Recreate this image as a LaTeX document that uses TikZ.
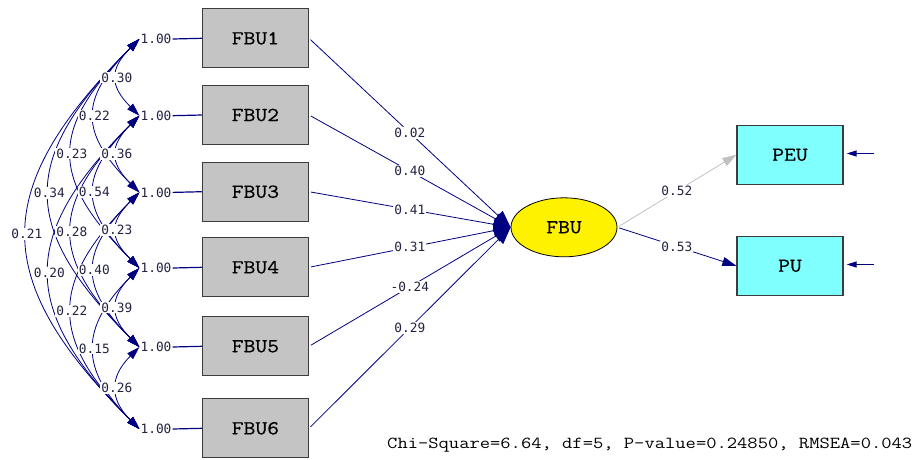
\documentclass[tikz,border=0pt]{standalone}
\usepackage{fontspec}
\newfontfamily\boxfont[FakeStretch=1.16,FakeBold=0.6]{Latin Modern Mono}
\newfontfamily\chifont[FakeStretch=1.19]{Latin Modern Mono}
\newfontfamily\numfont{DejaVu Sans Mono}
\usetikzlibrary{arrows.meta,calc,shapes.geometric}
\definecolor{navyc}{RGB}{0,0,128}
\definecolor{boxgray}{RGB}{196,196,196}
\definecolor{boxcyan}{RGB}{128,255,255}
\definecolor{labc}{RGB}{35,35,65}
\definecolor{lgray}{RGB}{192,192,192}
\definecolor{edgec}{RGB}{60,60,60}
\tikzset{
  obsbox/.style={draw=edgec, line width=1.3pt, minimum width=106pt, minimum height=59pt, inner sep=0pt, font=\boxfont\fontsize{19.8}{20}\selectfont},
  fbubox/.style={obsbox, fill=boxgray},
  endobox/.style={obsbox, fill=boxcyan},
  latent/.style={ellipse, draw=black, line width=0.8pt, fill=yellow, minimum width=106pt, minimum height=59pt, inner sep=0pt, font=\boxfont\fontsize{19.8}{20}\selectfont},
  errlab/.style={font=\numfont\fontsize{12.8}{13}\selectfont, text=labc, inner sep=1pt},
  lab/.style={font=\numfont\fontsize{12.8}{13}\selectfont, text=labc, fill=white, inner sep=1pt},
  varline/.style={draw=navyc, line width=1.2pt},
  loadline/.style={draw=navyc, line width=0.8pt, -{Triangle[length=17pt,width=13pt]}},
  cov/.style={draw=navyc, line width=0.8pt, {Triangle[length=13pt,width=8pt]}-{Triangle[length=13pt,width=8pt]}},
  resid/.style={draw=navyc, line width=1pt, -{Triangle[length=10pt,width=6pt]}, shorten >=3pt},
}
\def\covlist{1/2/0.30,1/3/0.22,1/4/0.23,1/5/0.34,1/6/0.21,2/3/0.36,2/4/0.54,2/5/0.28,2/6/0.20,3/4/0.23,3/5/0.40,3/6/0.22,4/5/0.39,4/6/0.15,5/6/0.26}
\begin{document}
\begin{tikzpicture}[x=1pt,y=-1pt]
\useasboundingbox (0,0) rectangle (913,459);
% observed boxes
\foreach \n/\y in {1/38.3,2/115,3/191.7,4/267.3,5/346.3,6/428.3}{
  \node[fbubox] (f\n) at (255.4,\y) {FBU\n};
  \node[errlab] (e\n) at (156,\y+0.7) {1.00};
}
\node[latent] (lat) at (564,227.3) {FBU};
\node[endobox] (peu) at (790,154.8) {PEU};
\node[endobox] (pu) at (790,265.8) {PU};
% covariances
\foreach \i/\j/\v in \covlist{
  \pgfmathsetmacro{\k}{30*(\j-\i)}
  \draw[cov] (e\i.west) .. controls ($(e\i.west)+(-\k,\k)$) and ($(e\j.west)+(-\k,-\k)$) .. (e\j.west) coordinate[pos=0.5] (m\i\j);
}
\foreach \i/\j/\v in \covlist{
  \node[lab] at (m\i\j) {\v};
}
% error lines
\foreach \n in {1,...,6}{
  \draw[varline] (e\n.east) -- (f\n.west);
}
% loadings
\draw[loadline, shorten <=2pt] (f1.east) -- (lat.west) node[lab,midway] {0.02};
\draw[loadline, shorten <=2pt] (f2.east) -- (lat.west) node[lab,midway] {0.40};
\draw[loadline, shorten <=2pt] (f3.east) -- (lat.west) node[lab,midway] {0.41};
\draw[loadline, shorten <=2pt] (f4.east) -- (lat.west) node[lab,midway] {0.31};
\draw[loadline, shorten <=2pt] (f5.east) -- (lat.west) node[lab,midway] {-0.24};
\draw[loadline, shorten <=2pt] (f6.east) -- (lat.west) node[lab,midway] {0.29};
% structural paths
\draw[draw=lgray, line width=0.8pt, -{Triangle[length=14pt,width=9pt]}, shorten <=2pt] (lat.east) -- (peu.west) node[lab,midway] {0.52};
\draw[draw=navyc, line width=0.8pt, -{Triangle[length=14pt,width=9pt]}, shorten <=2pt] (lat.east) -- (pu.west) node[lab,midway] {0.53};
% residual arrows
\coordinate (peuin) at (874,153.5);
\coordinate (puin) at (874,264.5);
\draw[resid] (peuin) -- (peuin -| peu.east);
\draw[resid] (puin) -- (puin -| pu.east);
% fit statistics
\node[anchor=base west, inner sep=0pt, font=\chifont\fontsize{16.8}{17}\selectfont] (chi) at (387,448.3) {Chi-Square=6.64, df=5, P-value=0.24850, RMSEA=0.043};
\end{tikzpicture}
\end{document}
